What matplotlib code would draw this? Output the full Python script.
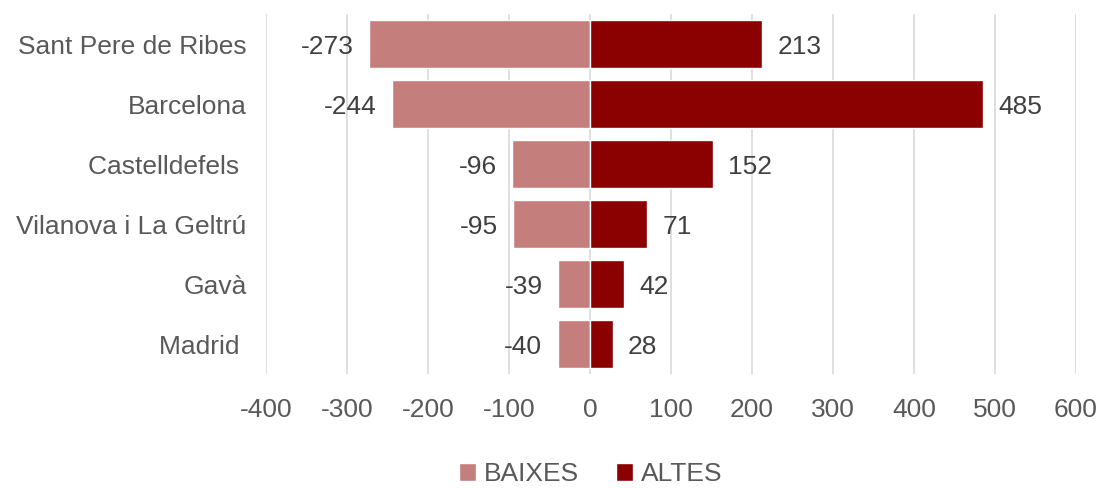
import matplotlib
matplotlib.use("Agg")
import matplotlib.pyplot as plt
import numpy as np

categories = ["Sant Pere de Ribes", "Barcelona", "Castelldefels ", "Vilanova i La Geltrú", "Gavà", "Madrid "]
baixes = [-273, -244, -96, -95, -39, -40]
altes = [213, 485, 152, 71, 42, 28]
xticks = [-400, -300, -200, -100, 0, 100, 200, 300, 400, 500, 600]

plt.rcParams['font.family'] = ['Liberation Sans', 'DejaVu Sans']
txt = '#595959'
fs = 19

fig = plt.figure(figsize=(11, 4.88), dpi=100)
ax = fig.add_axes([0.2418, 0.2336, 0.978 - 0.2418, 0.9713 - 0.2336])

y = np.arange(len(categories))
b1 = ax.barh(y, baixes, height=0.8, color='#C47E7C', edgecolor='white', linewidth=1, label='BAIXES', zorder=3)
b2 = ax.barh(y, altes, height=0.8, color='#8B0000', edgecolor='white', linewidth=1, label='ALTES', zorder=3)

for i, v in enumerate(baixes):
    ax.annotate(str(v), xy=(v, i), xytext=(-11, 0), textcoords='offset points',
                ha='right', va='center_baseline', fontsize=fs, color='#404040')
for i, v in enumerate(altes):
    ax.annotate(str(v), xy=(v, i), xytext=(11, 0), textcoords='offset points',
                ha='left', va='center_baseline', fontsize=fs, color='#404040')

ax.set_xlim(-400, 600)
ax.set_ylim(len(categories) - 0.5, -0.5)
ax.set_xticks(xticks)
ax.set_xticklabels([str(t) for t in xticks])
ax.set_yticks(y)
ax.set_yticklabels(categories)
ax.tick_params(axis='both', length=0, labelsize=fs, labelcolor=txt)
ax.tick_params(axis='x', pad=17)
ax.tick_params(axis='y', pad=14)
ax.grid(axis='x', color='#D9D9D9', linewidth=1.2, zorder=0)
for s in ax.spines.values():
    s.set_visible(False)

handles, labels = ax.get_legend_handles_labels()
leg = fig.legend(handles, labels, loc='center', bbox_to_anchor=(0.537, 1 - 474 / 488), ncol=2,
                 frameon=False, fontsize=fs, handlelength=0.65, handleheight=0.65,
                 handletextpad=0.3, columnspacing=1.4, labelcolor=txt)

fig.savefig('out.png', dpi=100)
